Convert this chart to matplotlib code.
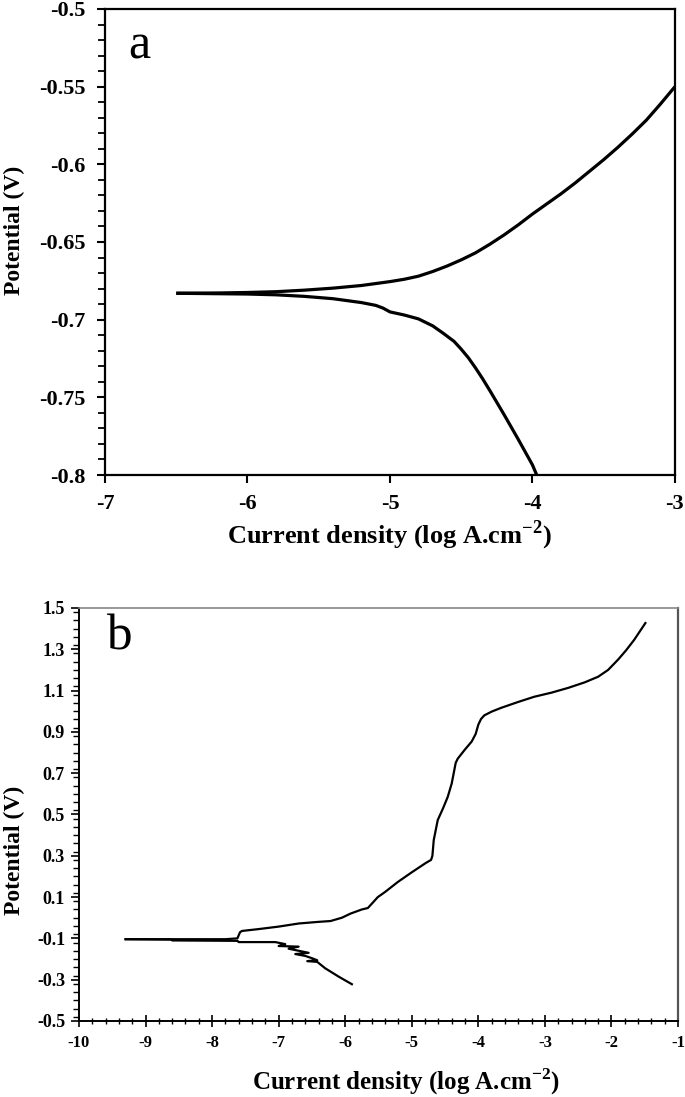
import matplotlib
matplotlib.use("Agg")
import matplotlib.pyplot as plt
from matplotlib.ticker import MultipleLocator

plt.rcParams['font.family'] = ['Liberation Serif', 'DejaVu Serif']
plt.rcParams['font.weight'] = 'bold'
plt.rcParams['axes.unicode_minus'] = False
plt.rcParams['mathtext.fontset'] = 'custom'
plt.rcParams['mathtext.rm'] = 'Liberation Serif:bold'
plt.rcParams['mathtext.bf'] = 'Liberation Serif:bold'

# panel a: anodic and cathodic branches
a_anodic_x = [-6.5, -6.2, -6.0, -5.8, -5.6, -5.4, -5.2, -5.0, -4.9, -4.8, -4.7,
              -4.6, -4.5, -4.4, -4.3, -4.2, -4.1, -4.0, -3.9, -3.8, -3.7, -3.6,
              -3.5, -3.4, -3.3, -3.2, -3.1, -3.0]
a_anodic_y = [-0.683, -0.6828, -0.6825, -0.682, -0.681, -0.6797, -0.678, -0.6755,
              -0.674, -0.672, -0.669, -0.6655, -0.6615, -0.657, -0.6515, -0.6455,
              -0.639, -0.632, -0.6255, -0.619, -0.612, -0.6045, -0.597, -0.589,
              -0.5805, -0.5715, -0.561, -0.550]
a_cathodic_x = [-6.5, -6.0, -5.8, -5.6, -5.4, -5.2, -5.1, -5.05, -5.0, -4.9, -4.8,
                -4.7, -4.63, -4.55, -4.5, -4.45, -4.4, -4.35, -4.3, -4.2, -4.1,
                -4.0, -3.97]
a_cathodic_y = [-0.683, -0.6835, -0.684, -0.685, -0.6865, -0.689, -0.6908, -0.6925,
                -0.695, -0.697, -0.6995, -0.704, -0.7085, -0.714, -0.719, -0.7245,
                -0.731, -0.738, -0.7455, -0.761, -0.777, -0.7935, -0.800]

# panel b
b_cathodic_x = [-5.90, -6.10, -6.30, -6.42, -6.57, -6.42, -6.50, -6.60, -6.75,
                -6.55, -6.70, -6.85, -6.70, -7.00, -6.90, -7.05, -7.60, -7.62,
                -8.60, -8.60, -9.30]
b_cathodic_y = [-0.322, -0.285, -0.245, -0.214, -0.210, -0.206, -0.196, -0.185,
                -0.176, -0.170, -0.160, -0.150, -0.140, -0.137, -0.128, -0.118,
                -0.118, -0.112, -0.110, -0.106, -0.104]
b_anodic_x = [-9.30, -8.5, -7.8, -7.62, -7.58, -7.55, -7.3, -7.0, -6.7, -6.4, -6.22,
              -6.05, -5.92, -5.75, -5.66, -5.58, -5.51, -5.4, -5.21, -5.0, -4.79,
              -4.71, -4.69, -4.67, -4.61, -4.53, -4.46, -4.40, -4.37, -4.34, -4.31,
              -4.2, -4.1, -4.04, -4.0, -3.96, -3.91, -3.8, -3.66, -3.4, -3.16, -2.9,
              -2.65, -2.4, -2.2, -2.05, -1.9, -1.78, -1.66, -1.49]
b_anodic_y = [-0.104, -0.104, -0.104, -0.100, -0.070, -0.064, -0.055, -0.043,
              -0.028, -0.020, -0.016, 0.0, 0.02, 0.040, 0.047, 0.075, 0.10, 0.125,
              0.173, 0.220, 0.265, 0.28, 0.30, 0.376, 0.473, 0.53, 0.585, 0.65,
              0.70, 0.75, 0.77, 0.815, 0.853, 0.89, 0.935, 0.962, 0.98, 0.998,
              1.016, 1.045, 1.07, 1.09, 1.113, 1.14, 1.167, 1.2, 1.25, 1.295,
              1.345, 1.427]

a_xticks = [-7, -6, -5, -4, -3]
a_yticks = [-0.5, -0.55, -0.6, -0.65, -0.7, -0.75, -0.8]
b_xticks = list(range(-10, 0))
b_yticks = [1.5, 1.3, 1.1, 0.9, 0.7, 0.5, 0.3, 0.1, -0.1, -0.3, -0.5]

xlabel = 'Current density (log A.cm$^{-2}$)'
ylabel = 'Potential (V)'

fig = plt.figure(figsize=(6.85, 10.97), dpi=100)

# ---- panel a
ax1 = fig.add_axes([0.1533, 0.567, 0.832, 0.4248])
ax1.plot(a_anodic_x, a_anodic_y, color='black', lw=2.3, solid_capstyle='butt')
ax1.plot(a_cathodic_x, a_cathodic_y, color='black', lw=2.3, solid_capstyle='butt')
ax1.set_xlim(-7, -3)
ax1.set_ylim(-0.8, -0.5)
ax1.set_xticks(a_xticks)
ax1.set_xticklabels([str(v) for v in a_xticks])
ax1.set_yticks(a_yticks)
ax1.set_yticklabels(['-0.5', '-0.55', '-0.6', '-0.65', '-0.7', '-0.75', '-0.8'])
ax1.yaxis.set_minor_locator(MultipleLocator(0.01))
ax1.tick_params(axis='both', which='major', direction='out', length=6, width=1.5,
                labelsize=16, pad=8)
ax1.tick_params(axis='y', which='minor', direction='out', length=5, width=1.3)
for s in ax1.spines.values():
    s.set_linewidth(1.6)
ax1.text(0.04, 0.97, 'a', transform=ax1.transAxes, fontsize=36, fontweight='normal',
         va='top', ha='left')
fig.text(389 / 685, 1 - 535 / 1097, xlabel, fontsize=19, ha='center', va='center')
fig.text(14 / 685, 1 - 230 / 1097, ylabel, fontsize=17, ha='center', va='center',
         rotation=90)

# ---- panel b
ax2 = fig.add_axes([0.1153, 0.0693, 0.8745, 0.3765])
ax2.plot(b_cathodic_x, b_cathodic_y, color='black', lw=1.6)
ax2.plot(b_anodic_x, b_anodic_y, color='black', lw=1.6)
ax2.set_xlim(-10, -1)
ax2.set_ylim(-0.5, 1.5)
ax2.set_xticks(b_xticks)
ax2.set_xticklabels([str(v) for v in b_xticks])
ax2.set_yticks(b_yticks)
ax2.set_yticklabels([f'{v:.1f}' for v in b_yticks])
ax2.xaxis.set_minor_locator(MultipleLocator(0.2))
ax2.yaxis.set_minor_locator(MultipleLocator(0.04))
ax2.tick_params(axis='x', which='major', direction='inout', length=8, width=1.2,
                labelsize=12, pad=6)
ax2.tick_params(axis='x', which='minor', direction='inout', length=5, width=1.0)
ax2.tick_params(axis='y', which='major', direction='out', length=6, width=1.2,
                labelsize=13, pad=4)
ax2.tick_params(axis='y', which='minor', direction='out', length=4, width=1.0)
ax2.spines['left'].set_linewidth(1.4)
ax2.spines['bottom'].set_linewidth(1.4)
ax2.spines['top'].set_linewidth(1.2)
ax2.spines['top'].set_color('#888888')
ax2.spines['right'].set_linewidth(1.6)
ax2.spines['right'].set_color('#555555')
ax2.text(0.045, 0.985, 'b', transform=ax2.transAxes, fontsize=37, fontweight='normal',
         va='top', ha='left')
fig.text(406 / 685, 1 - 1082 / 1097, xlabel, fontsize=18, ha='center', va='center')
fig.text(14 / 685, 1 - 850 / 1097, ylabel, fontsize=17, ha='center', va='center',
         rotation=90)

fig.savefig('out.png', dpi=100)
